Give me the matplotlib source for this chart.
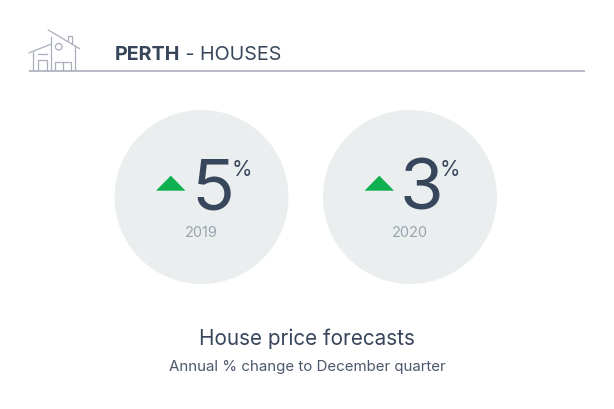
import matplotlib
matplotlib.use("Agg")
import matplotlib.pyplot as plt
from matplotlib.patches import Circle, Polygon

# Data
city = "PERTH"
dwelling = " - HOUSES"
years = ["2019", "2020"]
forecasts = [5, 3]
title = "House price forecasts"
subtitle = "Annual % change to December quarter"

# Style
FONT = ["Inter", "Open Sans", "DejaVu Sans"]
NAVY = "#38465c"
GREY = "#9aa3b0"
LINE = "#a9aebb"
CIRC = "#eaeeef"
GREEN = "#0fb04f"

fig = plt.figure(figsize=(6.14, 4.09), dpi=100, facecolor="white")
ax = fig.add_axes([0, 0, 1, 1])
ax.set_xlim(0, 614)
ax.set_ylim(409, 0)
ax.axis("off")

# Header
ax.plot([29, 585], [70.5, 70.5], color=LINE, lw=1.2, solid_capstyle="butt")
t = ax.text(115, 55.5, city, fontsize=14.2, fontweight="bold", color=NAVY,
            family=FONT, va="center", ha="left")
fig.canvas.draw()
bb = t.get_window_extent()
ax.text(bb.x1, 55.5, dwelling, fontsize=14.2, color=NAVY, family=FONT,
        va="center", ha="left")

# House icon
icon = [
    [(48.3, 30), (79.3, 48.5)],
    [(29.3, 52.7), (51.5, 44)],
    [(33.3, 51.5), (33.3, 70)],
    [(51, 37), (51, 70)],
    [(75, 46), (75, 70)],
    [(67.7, 40), (67.7, 35.5), (72.3, 35.5), (72.3, 44)],
    [(37.7, 54), (46.7, 54)],
    [(37.7, 70), (37.7, 59.5), (46.7, 59.5), (46.7, 70)],
    [(55, 70), (55, 61.5), (70.7, 61.5), (70.7, 70)],
    [(63, 61.5), (63, 70)],
]
for seg in icon:
    ax.plot([p[0] for p in seg], [p[1] for p in seg], color=LINE, lw=0.9)
ax.add_patch(Circle((58.7, 46.7), 3.3, fill=False, ec=LINE, lw=0.9))

# Circles
centers = [201.5, 410]
for cx, year, val in zip(centers, years, forecasts):
    ax.add_patch(Circle((cx, 197), 87, fc=CIRC, ec="none"))
    ax.add_patch(Polygon([(cx - 45.5, 190.7), (cx - 16, 190.7), (cx - 30.7, 175.7)],
                         closed=True, fc=GREEN, ec="none"))
    ax.text(cx + 11.5, 191, str(val), fontsize=51, color=NAVY, family=FONT,
            ha="center", va="center")
    ax.text(cx + 40, 170, "%", fontsize=15, color=NAVY, family=FONT,
            ha="center", va="center")
    ax.text(cx, 233, year, fontsize=10.5, color=GREY, family=FONT,
            ha="center", va="center")

# Footer
ax.text(307, 339, title, fontsize=14.9, color=NAVY, family=FONT, ha="center", va="center")
ax.text(307.5, 366.5, subtitle, fontsize=10.85, color=NAVY, alpha=0.9, family=FONT,
        ha="center", va="center")

fig.savefig("out.png", dpi=100, facecolor="white")
